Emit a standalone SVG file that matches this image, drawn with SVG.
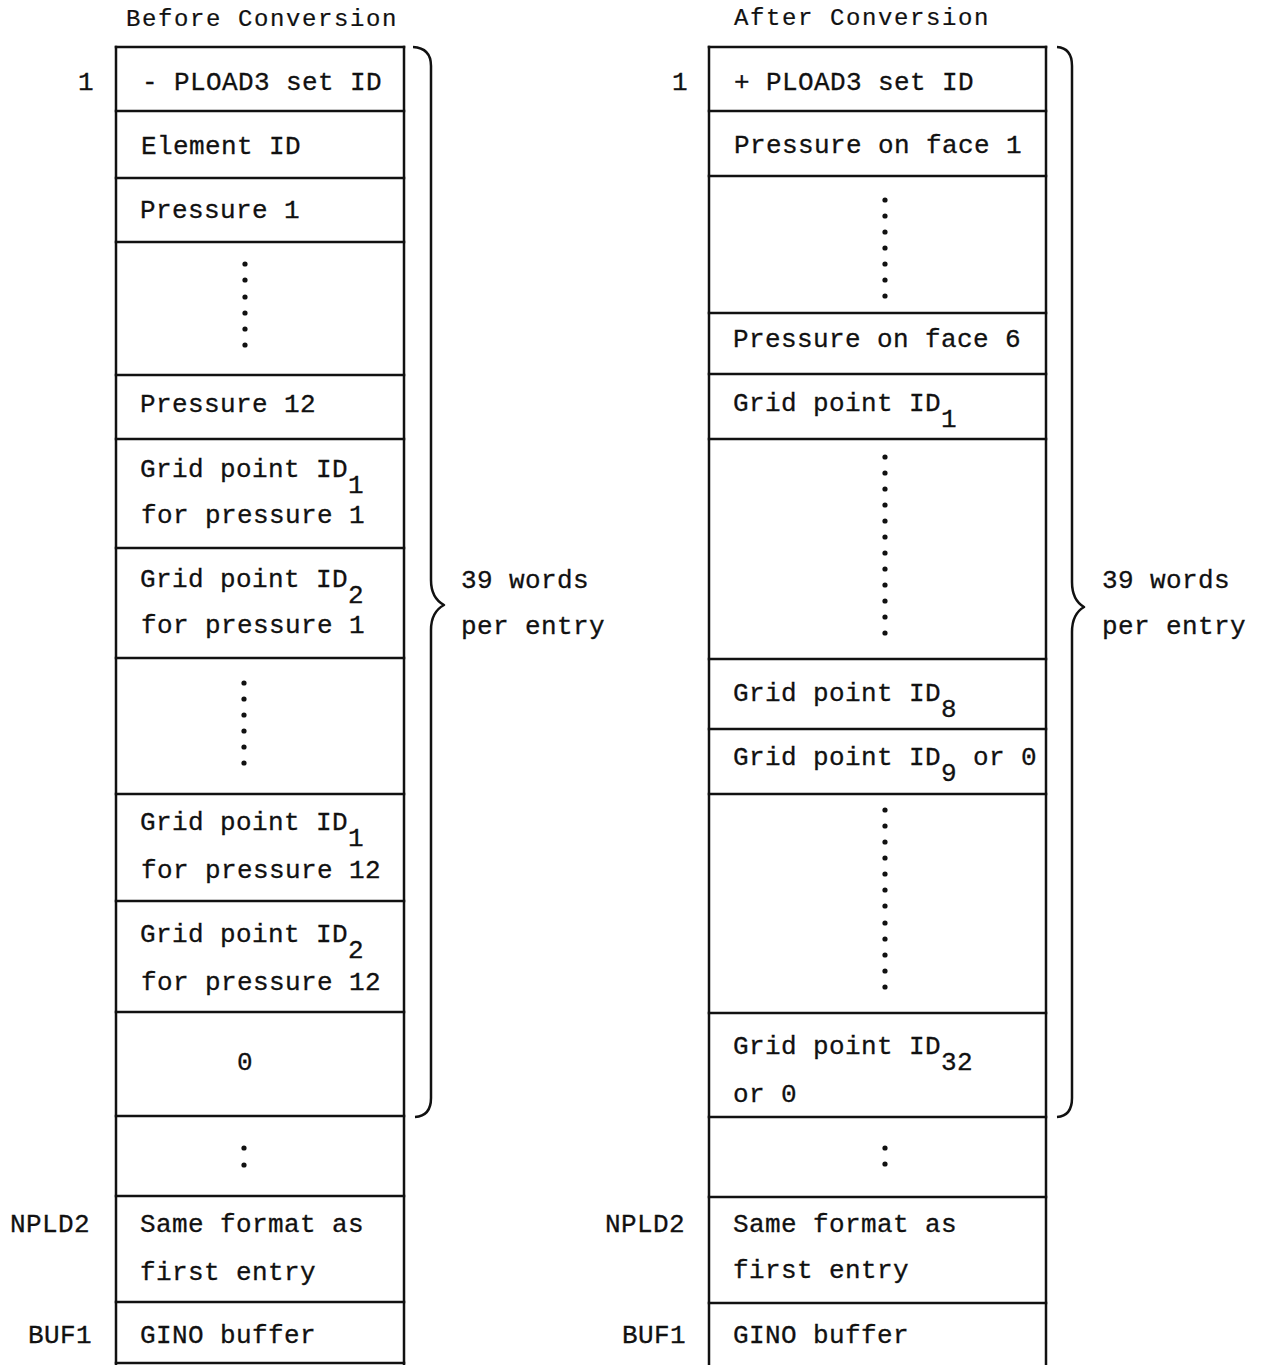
<svg xmlns="http://www.w3.org/2000/svg" width="1265" height="1365" viewBox="0 0 1265 1365">
<style>
  .t { font-family: "Liberation Mono", "Courier New", monospace; font-size: 26px; letter-spacing: 0.4px; fill: #111; stroke: #111; stroke-width: 0.3; }
  .h { font-family: "Liberation Mono", "Courier New", monospace; font-size: 24px; letter-spacing: 1.6px; fill: #111; stroke: #111; stroke-width: 0.2; }
  .ln { stroke: #111; stroke-width: 2.5; fill: none; stroke-linecap: square; }
  .br { stroke: #111; stroke-width: 2.5; fill: none; stroke-linejoin: round; }
  .dot { fill: #111; }
</style>
<rect width="1265" height="1365" fill="#fff"/>

<!-- Headings -->
<text class="h" x="126" y="26">Before Conversion</text>
<text class="h" x="734" y="25">After Conversion</text>

<!-- Left column frame -->
<g id="left-frame">
  <line class="ln" x1="116" y1="47" x2="116" y2="1365"/>
  <line class="ln" x1="404" y1="47" x2="404" y2="1365"/>
  <line class="ln" x1="116" y1="47" x2="404" y2="47"/>
  <line class="ln" x1="116" y1="1363" x2="404" y2="1363"/>
</g>
<!-- Right column frame -->
<g id="right-frame">
  <line class="ln" x1="709" y1="47" x2="709" y2="1365"/>
  <line class="ln" x1="1046" y1="47" x2="1046" y2="1365"/>
  <line class="ln" x1="709" y1="47" x2="1046" y2="47"/>
</g>

<!-- Left column rows -->
<g id="L1">
  <text class="t" x="78" y="90">1</text>
  <text class="t" x="142" y="90">- PLOAD3 set ID</text>
  <line class="ln" x1="116" y1="111" x2="404" y2="111"/>
</g>
<g id="L2">
  <text class="t" x="141" y="154">Element ID</text>
  <line class="ln" x1="116" y1="178" x2="404" y2="178"/>
</g>
<g id="L3">
  <text class="t" x="140" y="218">Pressure 1</text>
  <line class="ln" x1="116" y1="242" x2="404" y2="242"/>
</g>
<g id="L4">
  <circle class="dot" cx="245" cy="264" r="2.6"/>
  <circle class="dot" cx="245" cy="280" r="2.6"/>
  <circle class="dot" cx="245" cy="297" r="2.6"/>
  <circle class="dot" cx="245" cy="313" r="2.6"/>
  <circle class="dot" cx="245" cy="329" r="2.6"/>
  <circle class="dot" cx="245" cy="345" r="2.6"/>
  <line class="ln" x1="116" y1="375" x2="404" y2="375"/>
</g>
<g id="L5">
  <text class="t" x="140" y="412">Pressure 12</text>
  <line class="ln" x1="116" y1="439" x2="404" y2="439"/>
</g>
<g id="L6">
  <text class="t" x="140" y="477">Grid point ID<tspan dy="16">1</tspan></text>
  <text class="t" x="141" y="523">for pressure 1</text>
  <line class="ln" x1="116" y1="548" x2="404" y2="548"/>
</g>
<g id="L7">
  <text class="t" x="140" y="587">Grid point ID<tspan dy="16">2</tspan></text>
  <text class="t" x="141" y="633">for pressure 1</text>
  <line class="ln" x1="116" y1="658" x2="404" y2="658"/>
</g>
<g id="L8">
  <circle class="dot" cx="244" cy="683" r="2.6"/>
  <circle class="dot" cx="244" cy="699" r="2.6"/>
  <circle class="dot" cx="244" cy="715" r="2.6"/>
  <circle class="dot" cx="244" cy="731" r="2.6"/>
  <circle class="dot" cx="244" cy="747" r="2.6"/>
  <circle class="dot" cx="244" cy="763" r="2.6"/>
  <line class="ln" x1="116" y1="794" x2="404" y2="794"/>
</g>
<g id="L9">
  <text class="t" x="140" y="830">Grid point ID<tspan dy="16">1</tspan></text>
  <text class="t" x="141" y="878">for pressure 12</text>
  <line class="ln" x1="116" y1="901" x2="404" y2="901"/>
</g>
<g id="L10">
  <text class="t" x="140" y="942">Grid point ID<tspan dy="16">2</tspan></text>
  <text class="t" x="141" y="990">for pressure 12</text>
  <line class="ln" x1="116" y1="1012" x2="404" y2="1012"/>
</g>
<g id="L11">
  <text class="t" x="237" y="1070">0</text>
  <line class="ln" x1="116" y1="1116" x2="404" y2="1116"/>
</g>
<g id="L12">
  <circle class="dot" cx="244" cy="1148" r="2.6"/>
  <circle class="dot" cx="244" cy="1165" r="2.6"/>
  <line class="ln" x1="116" y1="1196" x2="404" y2="1196"/>
</g>
<g id="L13">
  <text class="t" x="10" y="1232">NPLD2</text>
  <text class="t" x="140" y="1232">Same format as</text>
  <text class="t" x="140" y="1280">first entry</text>
  <line class="ln" x1="116" y1="1302" x2="404" y2="1302"/>
</g>
<g id="L14">
  <text class="t" x="28" y="1343">BUF1</text>
  <text class="t" x="140" y="1343">GINO buffer</text>
</g>

<!-- Right column rows -->
<g id="R1">
  <text class="t" x="672" y="90">1</text>
  <text class="t" x="734" y="90">+ PLOAD3 set ID</text>
  <line class="ln" x1="709" y1="111" x2="1046" y2="111"/>
</g>
<g id="R2">
  <text class="t" x="734" y="153">Pressure on face 1</text>
  <line class="ln" x1="709" y1="176" x2="1046" y2="176"/>
</g>
<g id="R3">
  <circle class="dot" cx="885" cy="200" r="2.6"/>
  <circle class="dot" cx="885" cy="216" r="2.6"/>
  <circle class="dot" cx="885" cy="232" r="2.6"/>
  <circle class="dot" cx="885" cy="248" r="2.6"/>
  <circle class="dot" cx="885" cy="264" r="2.6"/>
  <circle class="dot" cx="885" cy="280" r="2.6"/>
  <circle class="dot" cx="885" cy="296" r="2.6"/>
  <line class="ln" x1="709" y1="313" x2="1046" y2="313"/>
</g>
<g id="R4">
  <text class="t" x="733" y="347">Pressure on face 6</text>
  <line class="ln" x1="709" y1="374" x2="1046" y2="374"/>
</g>
<g id="R5">
  <text class="t" x="733" y="411">Grid point ID<tspan dy="16">1</tspan></text>
  <line class="ln" x1="709" y1="439" x2="1046" y2="439"/>
</g>
<g id="R6">
  <circle class="dot" cx="885" cy="457" r="2.6"/>
  <circle class="dot" cx="885" cy="473" r="2.6"/>
  <circle class="dot" cx="885" cy="489" r="2.6"/>
  <circle class="dot" cx="885" cy="505" r="2.6"/>
  <circle class="dot" cx="885" cy="521" r="2.6"/>
  <circle class="dot" cx="885" cy="537" r="2.6"/>
  <circle class="dot" cx="885" cy="553" r="2.6"/>
  <circle class="dot" cx="885" cy="569" r="2.6"/>
  <circle class="dot" cx="885" cy="585" r="2.6"/>
  <circle class="dot" cx="885" cy="601" r="2.6"/>
  <circle class="dot" cx="885" cy="617" r="2.6"/>
  <circle class="dot" cx="885" cy="633" r="2.6"/>
  <line class="ln" x1="709" y1="659" x2="1046" y2="659"/>
</g>
<g id="R7">
  <text class="t" x="733" y="701">Grid point ID<tspan dy="16">8</tspan></text>
  <line class="ln" x1="709" y1="729" x2="1046" y2="729"/>
</g>
<g id="R8">
  <text class="t" x="733" y="765">Grid point ID<tspan dy="16">9</tspan><tspan dy="-16"> or 0</tspan></text>
  <line class="ln" x1="709" y1="794" x2="1046" y2="794"/>
</g>
<g id="R9">
  <circle class="dot" cx="885" cy="810" r="2.6"/>
  <circle class="dot" cx="885" cy="826" r="2.6"/>
  <circle class="dot" cx="885" cy="842" r="2.6"/>
  <circle class="dot" cx="885" cy="858" r="2.6"/>
  <circle class="dot" cx="885" cy="874" r="2.6"/>
  <circle class="dot" cx="885" cy="890" r="2.6"/>
  <circle class="dot" cx="885" cy="906" r="2.6"/>
  <circle class="dot" cx="885" cy="923" r="2.6"/>
  <circle class="dot" cx="885" cy="939" r="2.6"/>
  <circle class="dot" cx="885" cy="955" r="2.6"/>
  <circle class="dot" cx="885" cy="971" r="2.6"/>
  <circle class="dot" cx="885" cy="987" r="2.6"/>
  <line class="ln" x1="709" y1="1013" x2="1046" y2="1013"/>
</g>
<g id="R10">
  <text class="t" x="733" y="1054">Grid point ID<tspan dy="16">32</tspan></text>
  <text class="t" x="733" y="1102">or 0</text>
  <line class="ln" x1="709" y1="1117" x2="1046" y2="1117"/>
</g>
<g id="R11">
  <circle class="dot" cx="885" cy="1148" r="2.6"/>
  <circle class="dot" cx="885" cy="1164" r="2.6"/>
  <line class="ln" x1="709" y1="1197" x2="1046" y2="1197"/>
</g>
<g id="R12">
  <text class="t" x="605" y="1232">NPLD2</text>
  <text class="t" x="733" y="1232">Same format as</text>
  <text class="t" x="733" y="1278">first entry</text>
  <line class="ln" x1="709" y1="1303" x2="1046" y2="1303"/>
</g>
<g id="R13">
  <text class="t" x="622" y="1343">BUF1</text>
  <text class="t" x="733" y="1343">GINO buffer</text>
</g>

<!-- Braces -->
<g id="braces">
  <path class="br" d="M413 47 Q431 48 431 66 L431 580 Q431 598 444 605 Q431 612 431 630 L431 1098 Q431 1116 415 1117"/>
  <path class="br" d="M1057 47 Q1072 48 1072 66 L1072 582 Q1072 600 1084 607 Q1072 614 1072 632 L1072 1098 Q1072 1116 1057 1117"/>
  <text class="t" x="461" y="588">39 words</text>
  <text class="t" x="461" y="634">per entry</text>
  <text class="t" x="1102" y="588">39 words</text>
  <text class="t" x="1102" y="634">per entry</text>
</g>
</svg>
